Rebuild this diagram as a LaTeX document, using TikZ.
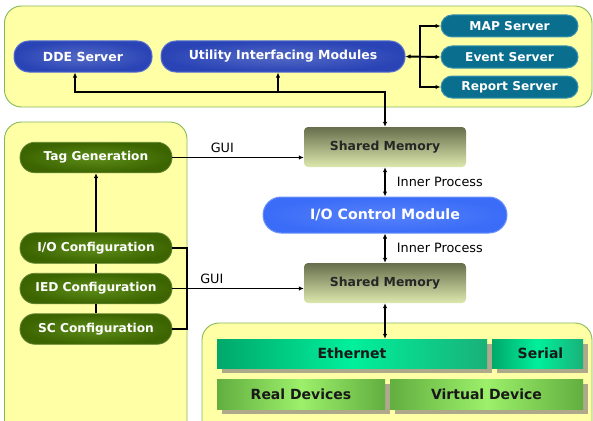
\documentclass[tikz,border=0pt]{standalone}
\usepackage{fontspec}
\setmainfont{DejaVu Sans}
\usetikzlibrary{arrows.meta,shadows}
\definecolor{panelfill}{HTML}{FFFFA6}
\definecolor{paneldraw}{HTML}{86B85A}
\definecolor{ddeblue}{HTML}{2A44B6}
\definecolor{ddeedge}{HTML}{5670D2}
\definecolor{tealsrv}{HTML}{0A6E8E}
\definecolor{tealedge}{HTML}{3A92B0}
\definecolor{oliveout}{HTML}{3C6400}
\definecolor{olivein}{HTML}{5E8E1A}
\definecolor{smtop}{HTML}{666E4C}
\definecolor{smbot}{HTML}{DDE8AE}
\definecolor{iocblue}{HTML}{3A6CF8}
\definecolor{iocedge}{HTML}{6A92FF}
\definecolor{ethdark}{HTML}{00A86A}
\definecolor{ethlite}{HTML}{00F09C}
\definecolor{devdark}{HTML}{62AE40}
\definecolor{devlite}{HTML}{9CF06A}
\definecolor{shadowc}{HTML}{ADA98A}
\tikzset{
  panel/.style={draw=paneldraw, line width=0.9pt, fill=panelfill, rounded corners=17pt},
  bluepill/.style={draw=ddeedge, line width=1pt, inner color=ddeblue!80!white, outer color=ddeblue, rounded corners=15pt, text=white, font=\bfseries\fontsize{12.5}{14}\selectfont, minimum height=31pt, inner sep=0pt},
  tealpill/.style={draw=tealedge, line width=1pt, fill=tealsrv, rounded corners=11pt, text=white, font=\bfseries\fontsize{12.2}{14}\selectfont, minimum height=22pt, minimum width=137pt, inner sep=0pt},
  olivepill/.style={draw=oliveout!80!white, line width=0.8pt, inner color=olivein, outer color=oliveout, rounded corners=15pt, text=white, font=\bfseries\fontsize{12.2}{14}\selectfont, minimum height=30.5pt, minimum width=152pt, inner sep=0pt},
  smbox/.style={top color=smtop, bottom color=smbot, rounded corners=4pt, text=black!85, font=\bfseries\fontsize{12.4}{14}\selectfont, minimum height=40pt, minimum width=162pt, inner sep=0pt},
  iocpill/.style={draw=iocedge, line width=1pt, inner color=iocblue!85!white, outer color=iocblue, rounded corners=18pt, text=white, font=\bfseries\fontsize{14.2}{16}\selectfont, minimum height=36pt, minimum width=244pt, inner sep=0pt},
  ethbox/.style={left color=ethdark, right color=ethdark!90!white, middle color=ethlite, text=black!90, font=\bfseries\fontsize{14}{16}\selectfont, minimum height=29pt, inner sep=0pt, general shadow={fill=shadowc, shadow xshift=5pt, shadow yshift=-5pt}},
  devbox/.style={left color=devdark, right color=devdark, middle color=devlite, text=black!90, font=\bfseries\fontsize{14}{16}\selectfont, minimum height=30pt, inner sep=0pt, general shadow={fill=shadowc, shadow xshift=5pt, shadow yshift=-5pt}},
  conn/.style={line width=1.9pt, black},
  tip/.style={-{Latex[length=5pt,width=4.5pt]}},
  tips/.style={{Latex[length=5pt,width=4.5pt]}-{Latex[length=5pt,width=4.5pt]}},
  lab/.style={font=\fontsize{12.8}{14}\selectfont, text=black, inner sep=0pt}
}
\begin{document}
\begin{tikzpicture}[x=1pt,y=-1pt]
\useasboundingbox (0,0) rectangle (593,420);
\fill[white] (0,0) rectangle (593,420);
% panels
\draw[panel] (4.5,6) rectangle (592,107);
\draw[panel] (4.5,122) rectangle (187,438);
\draw[panel] (202,323) rectangle (592,438);
% top panel nodes
\node[bluepill, minimum width=138pt] (dde) at (83,56.5) {DDE Server};
\node[bluepill, minimum width=244pt] (util) at (283,56.5) {Utility Interfacing Modules};
\node[tealpill] (map) at (509.5,26) {MAP Server};
\node[tealpill] (event) at (509.5,57) {Event Server};
\node[tealpill] (report) at (509.5,87) {Report Server};
% left panel nodes
\node[olivepill] (tag) at (96,157.5) {Tag Generation};
\node[olivepill] (iocfg) at (96,248) {I/O Configuration};
\node[olivepill] (ied) at (96,288.5) {IED Configuration};
\node[olivepill] (sccfg) at (96,329) {SC Configuration};
% centre column
\node[smbox] (sm1) at (385,147) {Shared Memory};
\node[iocpill] (ioc) at (385,215) {I/O Control Module};
\node[smbox] (sm2) at (385,283) {Shared Memory};
% bottom panel
\node[ethbox, minimum width=270pt] (eth) at (352,353.5) {Ethernet};
\node[ethbox, minimum width=91pt] (serial) at (537.5,353.5) {\hspace*{6pt}Serial};
\node[devbox, minimum width=168pt] (real) at (301,394) {Real Devices};
\node[devbox, minimum width=193pt] (virt) at (486.5,394) {Virtual Device};
% connectors top
\coordinate (br) at (420,57);
\draw[conn,tips] (util.east) -- (event.west);
\draw[conn,tip] (br) |- (map.west);
\draw[conn,tip] (br) |- (report.west);
\coordinate (bl) at (75,92);
\coordinate (bm) at (278,92);
\coordinate (bc) at (385,92);
\draw[conn,tips] (bl |- dde.south) -- (bl) -- (bc) -- (sm1.north);
\draw[conn,tip] (bm) -- (bm |- util.south);
% left connectors
\draw[conn,tip] (iocfg.north) -- (tag.south);
\draw[conn] (iocfg.south) -- (ied.north);
\draw[conn] (ied.south) -- (sccfg.north);
\coordinate (c1) at (187,248);
\coordinate (c2) at (187,329);
\draw[conn] (iocfg.east) -- (c1) -- (c2) -- (sccfg.east);
\draw[conn,tip] (tag.east) -- (tag.east -| sm1.west) node[lab, pos=0.38, above=4pt] (gui1) {GUI};
\draw[conn,tip] (ied.east) -- (ied.east -| sm2.west) node[lab, pos=0.3, above=4pt] (gui2) {GUI};
% centre connectors
\draw[conn,tips] (sm1.south) -- (ioc.north) node[lab, midway, right=11pt] (ip1) {Inner Process};
\draw[conn,tips] (ioc.south) -- (sm2.north) node[lab, midway, right=11pt] (ip2) {Inner Process};
\draw[conn,tips] (sm2.south) -- (sm2.south |- eth.north);
\end{tikzpicture}
\end{document}
